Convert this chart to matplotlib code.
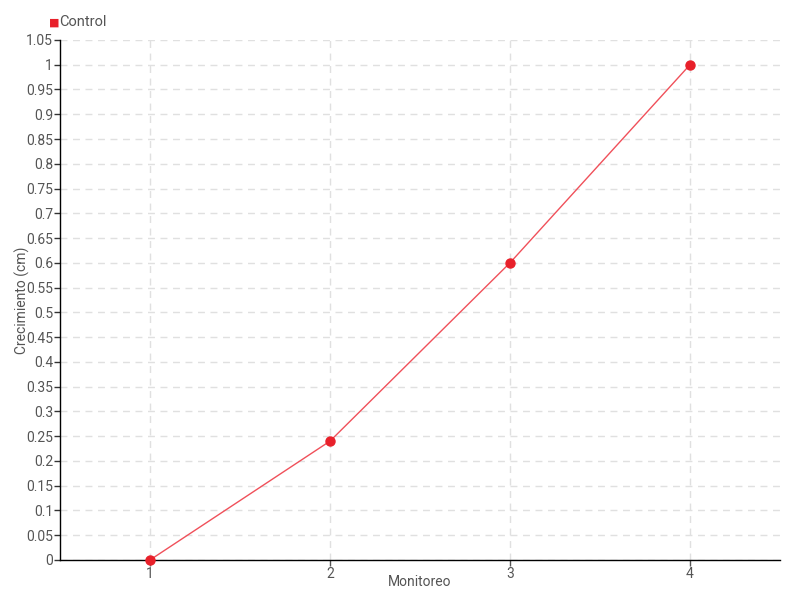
import matplotlib
matplotlib.use("Agg")
import matplotlib.pyplot as plt

plt.rcParams['font.family'] = ['Roboto', 'DejaVu Sans']

monitoreo = [1, 2, 3, 4]
control = [0.0, 0.24, 0.6, 1.0]
y_ticks = [i * 0.05 for i in range(22)]
y_labels = ["0", "0.05", "0.1", "0.15", "0.2", "0.25", "0.3", "0.35", "0.4", "0.45", "0.5",
            "0.55", "0.6", "0.65", "0.7", "0.75", "0.8", "0.85", "0.9", "0.95", "1", "1.05"]

fig = plt.figure(figsize=(8, 6), dpi=100)
ax = fig.add_axes([0.075, 0.0667, 0.9, 0.8667])
color = "#e8202a"
ax.plot(monitoreo, control, color="#f0505a", lw=1, zorder=3)
ax.plot(monitoreo, control, "o", color=color, ms=6.5, zorder=4, clip_on=False)

ax.set_xlim(0.5, 4.5)
ax.set_ylim(0, 1.05)
ax.set_xticks(monitoreo)
ax.set_xticklabels([str(m) for m in monitoreo])
ax.set_yticks(y_ticks)
ax.set_yticklabels(y_labels)
ax.grid(True, color="#e0e0e0", ls=(0, (5, 4)), lw=1)
for s in ["top", "right"]:
    ax.spines[s].set_visible(False)
for s in ["left", "bottom"]:
    ax.spines[s].set_color("black")
    ax.spines[s].set_linewidth(1)
ax.tick_params(axis="y", length=4, width=1, color="#333333", labelcolor="#555555", labelsize=10, pad=1)
ax.tick_params(axis="x", length=4, width=1, color="#555555", labelcolor="#555555", labelsize=10, pad=1)
ax.set_xlabel("Monitoreo", color="#555555", fontsize=10, labelpad=-4)
ax.set_ylabel("Crecimiento (cm)", color="#555555", fontsize=10)
ax.yaxis.set_label_coords(-0.041, 0.5)

fig.text(0.0615, 0.963, "\u25a0", color=color, fontsize=8, ha="left", va="center")
fig.text(0.074, 0.963, "Control", color="#555555", fontsize=10.5, ha="left", va="center")

fig.savefig("out.png", dpi=100)
